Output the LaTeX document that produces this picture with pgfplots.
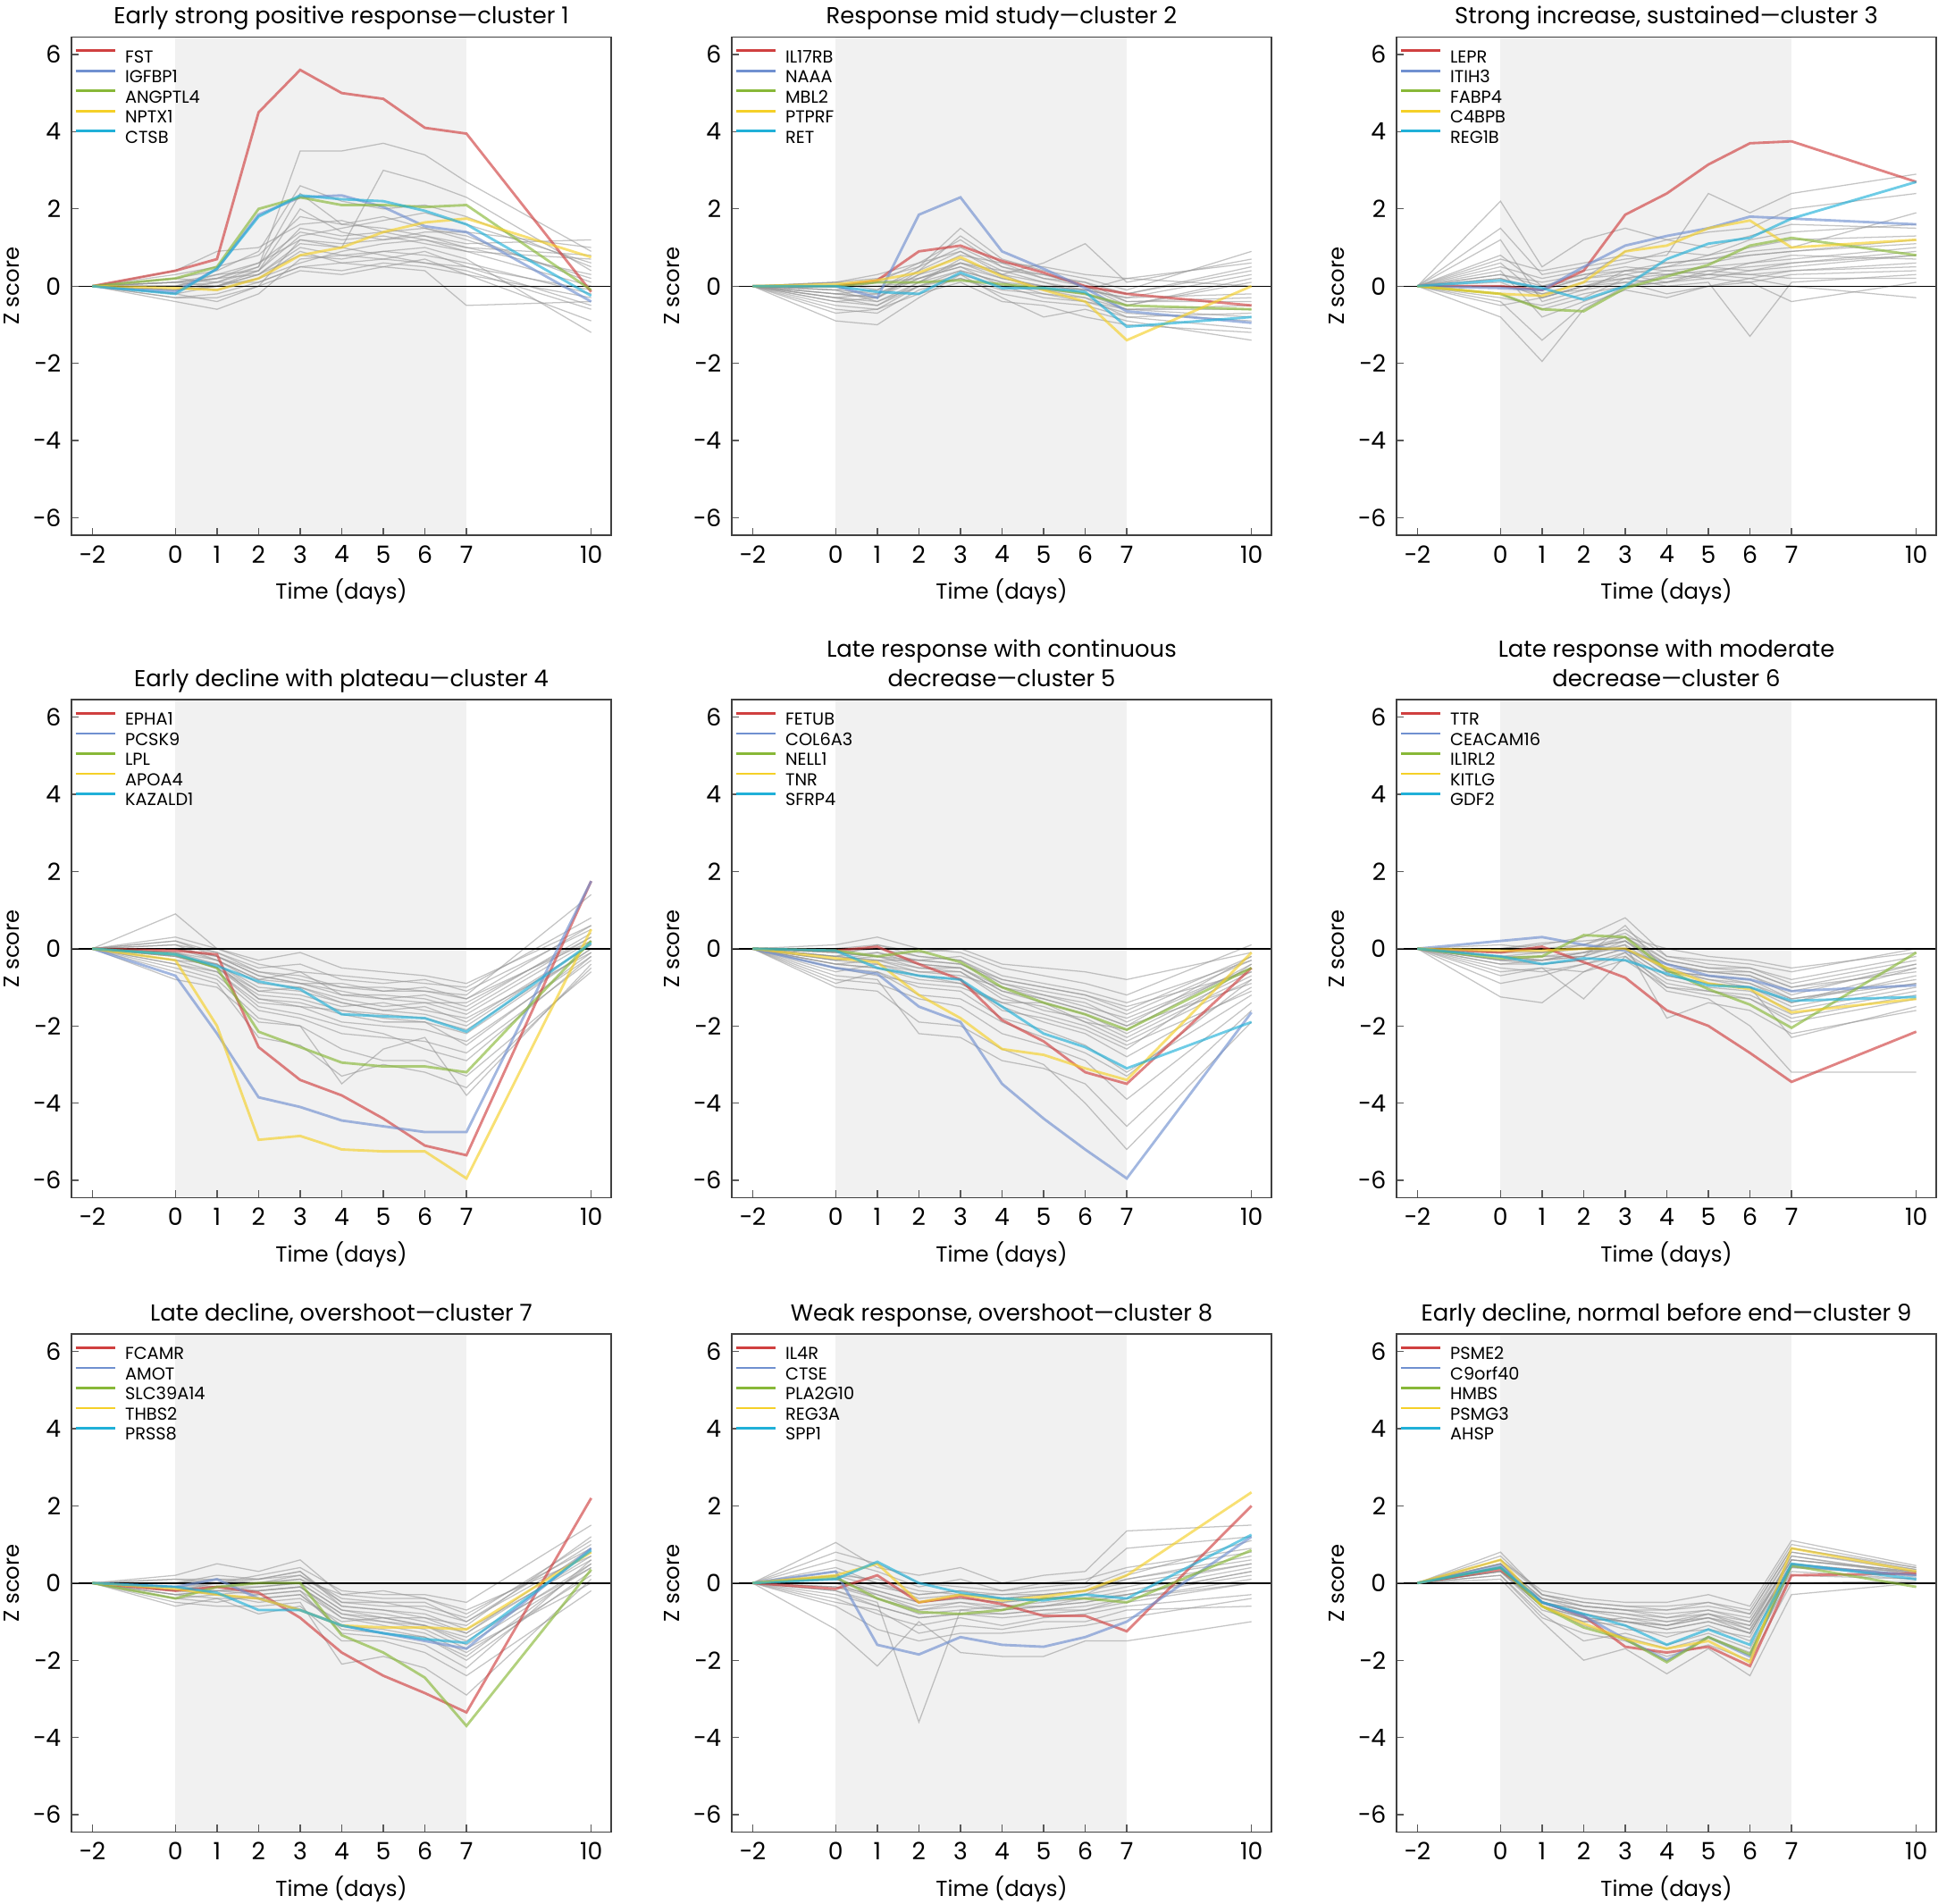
\documentclass[border=0pt]{standalone}
\usepackage{fontspec}
\setmainfont{Poppins}
\usepackage{pgfplots}
\pgfplotsset{compat=1.18}
\definecolor{cR}{HTML}{D04040}
\definecolor{cB}{HTML}{7090D0}
\definecolor{cG}{HTML}{88B838}
\definecolor{cY}{HTML}{F5D028}
\definecolor{cC}{HTML}{20B0D8}
\definecolor{bgfill}{HTML}{F1F1F1}
\newcommand\gl[9]{\addplot[gl,forget plot] coordinates {(-2,0)(0,#1)(1,#2)(2,#3)(3,#4)(4,#5)(5,#6)(6,#7)(7,#8)(10,#9)};}
\newcommand\cl[1]{\def\clst{#1}\clx}
\newcommand\clx[9]{\edef\tmp{\noexpand\addplot[\clst]}\tmp coordinates {(-2,0)(0,#1)(1,#2)(2,#3)(3,#4)(4,#5)(5,#6)(6,#7)(7,#8)(10,#9)};}
\newcommand\bg{\fill[bgfill] (axis cs:0,-6.45) rectangle (axis cs:7,6.45);}
\newcommand\zl{\draw[black,line width=0.45pt] (axis cs:-2.5,0) -- (axis cs:10.48,0);}
\pgfplotsset{
  every axis title shift/.style={yshift=0pt},
  gl/.style={draw=black!42, draw opacity=0.55, line width=0.38pt},
  cr/.style={draw=cR, draw opacity=0.65, line width=0.85pt},
  cb/.style={draw=cB, draw opacity=0.65, line width=0.85pt},
  cg/.style={draw=cG, draw opacity=0.65, line width=0.85pt},
  cy/.style={draw=cY, draw opacity=0.65, line width=0.85pt},
  cc/.style={draw=cC, draw opacity=0.65, line width=0.85pt},
  panel/.style={
    scale only axis, width=181.2pt, height=167.25pt, anchor=north west,
    xmin=-2.5, xmax=10.48, ymin=-6.45, ymax=6.45,
    axis on top,
    no markers,
    xtick={-2,0,1,2,3,4,5,6,7,10},
    xticklabels={−2,0,1,2,3,4,5,6,7,10},
    ytick={-6,-4,-2,0,2,4,6},
    yticklabels={−6,−4,−2,0,2,4,6},
    xtick pos=bottom, ytick pos=left, tick align=inside,
    major tick length=2.5pt,
    major tick style={black!65, line width=0.4pt},
    axis line style={black!75, line width=0.5pt},
    tick label style={font=\fontsize{8}{9}\selectfont},
    xlabel={Time (days)}, ylabel={Z score},
    label style={font=\fontsize{7.3}{8}\selectfont},
    xlabel style={at={(axis description cs:0.5,-0.114)}, anchor=center},
    ylabel style={at={(axis description cs:-0.11,0.5)}, anchor=center},
    title style={at={(axis description cs:0.5,1.0085)}, anchor=south, yshift=-6.2pt, inner sep=0pt, align=center, font=\fontsize{7.75}{9.9}\selectfont},
    legend style={at={(axis description cs:0,1)}, anchor=north west, xshift=0.8pt, yshift=-4.0pt,
      draw=none, fill=none, inner sep=0pt, row sep=2.3pt,
      font=\fontsize{5.8}{6.5}\selectfont,
      nodes={inner sep=0pt, text height=4.1pt, text depth=0pt},
      /tikz/every odd column/.append style={column sep=3pt}},
    legend cell align=left,
    legend image code/.code={\path (0pt,0pt); \draw[#1,draw opacity=1,line width=0.8pt] (0pt,2pt)--(13.2pt,2pt);},
  }
}
\begin{document}
\begin{tikzpicture}
\useasboundingbox (0,0) rectangle (650.7pt,-639.3pt);
% ---------- cluster 1
\begin{axis}[panel, at={(24pt,-12.45pt)}, title={Early strong positive response—cluster 1\strut},
  legend entries={FST,IGFBP1,ANGPTL4,NPTX1,CTSB}]
\bg
\gl{0.1}{0.2}{0.6}{1.2}{1.1}{1.2}{1.3}{1.0}{0.3}
\gl{-0.1}{0.0}{0.3}{0.8}{0.7}{0.9}{0.8}{0.6}{-0.2}
\gl{0.2}{0.4}{0.9}{2.6}{2.2}{2.0}{2.1}{1.8}{0.5}
\gl{0.0}{0.1}{0.5}{3.5}{3.5}{3.7}{3.4}{2.7}{0.9}
\gl{-0.3}{-0.2}{0.1}{0.5}{0.6}{0.7}{0.6}{0.4}{-0.6}
\gl{0.1}{0.3}{0.4}{1.5}{1.3}{1.4}{1.5}{1.2}{0.2}
\gl{-0.2}{-0.4}{0.0}{0.4}{0.3}{0.5}{0.7}{0.3}{-0.9}
\gl{0.3}{0.5}{0.8}{1.8}{1.6}{1.5}{1.3}{1.1}{1.2}
\gl{0.0}{0.2}{0.3}{1.1}{1.0}{3.0}{2.7}{2.3}{0.4}
\gl{-0.4}{-0.6}{-0.2}{0.7}{0.8}{0.9}{1.0}{0.7}{-1.2}
\gl{0.2}{0.1}{0.4}{1.3}{1.5}{1.7}{1.9}{1.6}{0.6}
\gl{-0.1}{0.0}{0.2}{0.9}{0.6}{0.5}{0.4}{-0.5}{-0.4}
\gl{0.1}{0.2}{0.5}{2.4}{1.6}{1.8}{1.5}{1.3}{0.1}
\gl{0.0}{-0.1}{0.2}{0.6}{0.9}{1.1}{1.2}{1.0}{0.8}
\gl{-0.2}{0.0}{0.3}{1.0}{0.8}{0.7}{0.9}{0.5}{-0.5}
\gl{0.4}{0.9}{1.0}{1.6}{1.7}{1.4}{1.2}{0.9}{0.0}
\gl{-0.1}{0.1}{0.1}{0.5}{0.4}{0.6}{0.5}{0.3}{-0.3}
\gl{0.0}{0.3}{0.6}{1.4}{1.2}{1.3}{1.1}{0.9}{0.7}
\gl{-0.3}{-0.3}{0.0}{1.2}{1.0}{0.8}{0.6}{0.5}{-0.1}
\gl{0.1}{0.0}{0.4}{2.0}{1.4}{1.2}{1.4}{1.4}{1.0}
\zl
\cl{cr}{0.4}{0.7}{4.5}{5.6}{5.0}{4.85}{4.1}{3.95}{-0.15}
\cl{cb}{-0.15}{0.45}{1.85}{2.3}{2.35}{2.05}{1.55}{1.4}{-0.4}
\cl{cg}{0.2}{0.5}{2.0}{2.3}{2.1}{2.1}{2.05}{2.1}{-0.1}
\cl{cy}{-0.05}{-0.1}{0.2}{0.8}{1.0}{1.4}{1.65}{1.75}{0.75}
\cl{cc}{-0.2}{0.45}{1.8}{2.35}{2.25}{2.2}{1.95}{1.6}{-0.25}
\end{axis}
% ---------- cluster 2
\begin{axis}[panel, at={(245.7pt,-12.45pt)}, title={Response mid study—cluster 2\strut},
  legend entries={IL17RB,NAAA,MBL2,PTPRF,RET}]
\bg
\gl{-0.1}{-0.2}{0.3}{0.6}{0.2}{0.0}{-0.1}{-0.3}{-0.2}
\gl{-0.3}{-0.5}{0.0}{0.4}{0.1}{-0.2}{-0.3}{-0.6}{-0.8}
\gl{0.1}{0.2}{0.5}{1.5}{0.7}{0.4}{0.2}{-0.1}{0.9}
\gl{-0.6}{-0.7}{-0.1}{0.2}{-0.2}{-0.4}{-0.5}{-0.8}{-1.1}
\gl{-0.2}{-0.1}{0.4}{0.9}{0.4}{0.3}{0.1}{-0.2}{0.4}
\gl{0.0}{0.1}{0.6}{1.2}{0.5}{0.2}{0.0}{-0.4}{-0.3}
\gl{-0.4}{-0.3}{0.2}{0.5}{0.0}{-0.1}{-0.2}{-0.5}{0.2}
\gl{-0.9}{-1.0}{-0.3}{0.3}{-0.3}{-0.8}{-0.6}{-0.9}{-1.4}
\gl{-0.1}{-0.4}{0.1}{0.7}{0.3}{0.6}{1.1}{0.1}{0.7}
\gl{-0.3}{-0.2}{0.2}{0.6}{0.4}{0.1}{-0.2}{-0.6}{-0.6}
\gl{0.1}{-0.1}{0.5}{1.0}{0.5}{0.3}{0.0}{-0.2}{0.5}
\gl{-0.5}{-0.6}{0.0}{0.3}{0.0}{-0.3}{-0.4}{-0.7}{-0.9}
\gl{-0.2}{-0.3}{0.3}{0.8}{0.6}{0.5}{0.3}{0.2}{0.0}
\gl{0.0}{0.0}{0.1}{0.4}{0.1}{0.0}{-0.1}{-0.3}{0.3}
\gl{-0.7}{-0.6}{-0.2}{0.1}{-0.4}{-0.5}{-0.8}{-1.0}{-1.2}
\gl{-0.2}{-0.3}{0.4}{1.3}{0.6}{0.2}{0.1}{-0.4}{-0.4}
\gl{-0.1}{0.1}{0.2}{0.5}{0.2}{0.0}{0.0}{-0.5}{0.1}
\gl{-0.4}{-0.5}{0.1}{0.6}{0.3}{-0.1}{-0.3}{-0.8}{-0.7}
\gl{0.1}{0.3}{0.6}{0.9}{0.3}{0.1}{-0.1}{0.2}{0.6}
\gl{-0.3}{-0.4}{0.0}{0.2}{-0.1}{-0.2}{-0.4}{-0.6}{-0.5}
\zl
\cl{cr}{0.0}{0.15}{0.9}{1.05}{0.65}{0.35}{0.0}{-0.2}{-0.5}
\cl{cb}{0.0}{-0.3}{1.85}{2.3}{0.9}{0.45}{-0.05}{-0.65}{-0.95}
\cl{cg}{0.0}{0.1}{0.1}{0.15}{0.05}{-0.05}{-0.2}{-0.5}{-0.6}
\cl{cy}{0.05}{0.15}{0.35}{0.75}{0.25}{-0.1}{-0.4}{-1.4}{0.0}
\cl{cc}{0.0}{-0.15}{-0.2}{0.35}{-0.05}{-0.05}{-0.15}{-1.05}{-0.8}
\end{axis}
% ---------- cluster 3
\begin{axis}[panel, at={(468.9pt,-12.45pt)}, title={Strong increase, sustained—cluster 3\strut},
  legend entries={LEPR,ITIH3,FABP4,C4BPB,REG1B}]
\bg
\gl{0.2}{-0.1}{0.2}{0.4}{0.3}{0.4}{0.5}{0.6}{0.8}
\gl{-0.3}{-0.5}{-0.2}{0.0}{0.1}{0.2}{0.1}{0.3}{0.4}
\gl{2.2}{0.5}{1.2}{1.5}{1.2}{1.0}{1.3}{1.6}{1.5}
\gl{0.6}{-0.3}{0.0}{0.3}{0.5}{0.6}{0.8}{0.9}{1.1}
\gl{-0.8}{-1.95}{-0.6}{0.0}{0.1}{0.3}{0.2}{0.4}{0.5}
\gl{1.5}{0.3}{0.5}{0.7}{0.8}{2.4}{1.9}{2.4}{2.9}
\gl{0.0}{-0.2}{0.1}{0.2}{0.0}{0.1}{-1.3}{0.1}{0.3}
\gl{1.2}{-0.4}{-0.1}{0.4}{0.6}{0.7}{0.9}{1.0}{1.9}
\gl{0.3}{0.1}{0.3}{0.5}{0.4}{0.5}{0.6}{0.7}{1.0}
\gl{-0.4}{-1.4}{-0.5}{-0.1}{-0.3}{0.0}{0.2}{0.0}{-0.3}
\gl{0.5}{0.2}{0.4}{0.6}{0.9}{0.8}{1.0}{1.2}{1.3}
\gl{0.1}{-0.3}{0.0}{0.1}{0.2}{0.3}{0.3}{0.4}{0.6}
\gl{-0.2}{-0.6}{-0.3}{0.2}{0.3}{0.2}{0.4}{0.5}{0.8}
\gl{0.8}{0.0}{0.2}{0.9}{1.2}{1.4}{1.5}{2.0}{2.4}
\gl{0.0}{-0.1}{0.2}{0.3}{0.1}{0.4}{0.3}{0.2}{0.2}
\gl{0.4}{-0.8}{-0.4}{0.0}{0.3}{0.5}{0.4}{0.6}{0.9}
\gl{-0.5}{-0.3}{0.0}{0.2}{0.4}{0.3}{0.6}{0.8}{0.7}
\gl{0.7}{0.4}{0.6}{0.8}{0.6}{0.7}{0.8}{0.9}{1.2}
\gl{0.2}{-0.2}{-0.1}{0.1}{-0.2}{0.0}{0.1}{-0.4}{0.1}
\gl{0.3}{0.0}{0.3}{0.4}{0.5}{0.8}{1.2}{1.4}{1.6}
\zl
\cl{cr}{0.0}{-0.1}{0.4}{1.85}{2.4}{3.15}{3.7}{3.75}{2.7}
\cl{cb}{-0.05}{-0.1}{0.5}{1.05}{1.3}{1.5}{1.8}{1.75}{1.6}
\cl{cg}{-0.2}{-0.6}{-0.65}{-0.05}{0.25}{0.55}{1.05}{1.25}{0.8}
\cl{cy}{-0.2}{-0.25}{0.1}{0.9}{1.05}{1.5}{1.7}{1.0}{1.2}
\cl{cc}{0.15}{-0.05}{-0.35}{0.0}{0.7}{1.1}{1.25}{1.75}{2.7}
\end{axis}
% ---------- cluster 4
\begin{axis}[panel, at={(24pt,-234.9pt)}, title={Early decline with plateau—cluster 4\strut},
  legend entries={EPHA1,PCSK9,LPL,APOA4,KAZALD1}]
\bg
\gl{0.0}{-0.2}{-0.6}{-0.7}{-1.0}{-1.1}{-1.1}{-1.3}{0.2}
\gl{-0.2}{-0.5}{-1.2}{-1.3}{-1.6}{-1.7}{-1.8}{-2.1}{0.0}
\gl{0.9}{0.0}{-0.3}{-0.1}{-0.5}{-0.6}{-0.7}{-0.9}{0.6}
\gl{-0.4}{-0.7}{-1.6}{-1.8}{-2.2}{-2.3}{-2.4}{-2.7}{-0.3}
\gl{0.1}{-0.3}{-0.8}{-0.9}{-1.2}{-1.2}{-1.3}{-1.6}{0.3}
\gl{-0.6}{-0.9}{-2.3}{-2.5}{-3.3}{-3.0}{-3.2}{-3.6}{-0.5}
\gl{0.2}{-0.1}{-0.5}{-0.4}{-0.8}{-0.9}{-0.8}{-1.1}{0.5}
\gl{-0.1}{-0.4}{-1.0}{-1.1}{-1.4}{-1.6}{-1.5}{-1.9}{0.1}
\gl{-0.3}{-0.6}{-1.4}{-1.5}{-1.9}{-2.0}{-2.1}{-2.4}{-0.2}
\gl{0.0}{-0.2}{-0.7}{-0.9}{-1.1}{-1.3}{-1.2}{-1.5}{0.4}
\gl{-0.8}{-1.0}{-1.9}{-2.0}{-2.6}{-2.9}{-2.9}{-3.3}{-0.6}
\gl{0.3}{0.0}{-0.4}{-0.6}{-0.7}{-0.8}{-0.9}{-1.0}{0.8}
\gl{-0.2}{-0.5}{-1.1}{-1.2}{-1.5}{-1.4}{-1.6}{-1.8}{-0.1}
\gl{-0.1}{-0.3}{-0.9}{-1.0}{-1.3}{-1.5}{-1.4}{-1.7}{0.2}
\gl{-0.5}{-0.8}{-1.8}{-2.0}{-3.5}{-2.6}{-2.3}{-3.8}{-0.4}
\gl{0.1}{-0.1}{-0.6}{-0.8}{-1.0}{-1.0}{-1.1}{-1.2}{1.4}
\gl{-0.3}{-0.4}{-1.3}{-1.4}{-1.7}{-1.9}{-1.9}{-2.2}{0.0}
\gl{0.0}{-0.3}{-0.8}{-0.6}{-1.2}{-1.3}{-1.4}{-1.4}{0.3}
\gl{-0.4}{-0.6}{-1.5}{-1.7}{-2.0}{-2.2}{-2.6}{-2.9}{-0.2}
\gl{0.2}{-0.2}{-0.7}{-0.9}{-0.9}{-1.1}{-1.0}{-1.3}{0.6}
\gl{-0.2}{-0.4}{-1.1}{-1.0}{-1.4}{-1.6}{-1.7}{-2.0}{0.1}
\gl{-0.1}{-0.5}{-1.3}{-1.5}{-1.6}{-1.8}{-1.9}{-2.5}{-0.1}
\zl
\cl{cr}{-0.05}{-0.15}{-2.55}{-3.4}{-3.8}{-4.4}{-5.1}{-5.35}{1.75}
\cl{cb}{-0.7}{-2.2}{-3.85}{-4.1}{-4.45}{-4.6}{-4.75}{-4.75}{1.75}
\cl{cg}{-0.15}{-0.5}{-2.15}{-2.55}{-2.95}{-3.05}{-3.05}{-3.2}{0.2}
\cl{cy}{-0.3}{-2.0}{-4.95}{-4.85}{-5.2}{-5.25}{-5.25}{-5.95}{0.5}
\cl{cc}{-0.15}{-0.45}{-0.85}{-1.05}{-1.7}{-1.75}{-1.8}{-2.15}{0.15}
\end{axis}
% ---------- cluster 5
\begin{axis}[panel, at={(245.7pt,-234.9pt)}, title={Late response with continuous\\decrease—cluster 5\strut},
  legend entries={FETUB,COL6A3,NELL1,TNR,SFRP4}]
\bg
\gl{-0.2}{-0.1}{-0.3}{-0.4}{-0.9}{-1.2}{-1.4}{-1.9}{-0.5}
\gl{-0.4}{-0.5}{-0.8}{-0.9}{-1.5}{-1.9}{-2.2}{-2.8}{-1.0}
\gl{0.1}{0.3}{0.0}{-0.1}{-0.5}{-0.7}{-0.9}{-1.2}{0.1}
\gl{-0.7}{-0.8}{-2.2}{-2.3}{-2.9}{-3.1}{-3.5}{-4.6}{-1.6}
\gl{-0.1}{0.0}{-0.2}{-0.3}{-0.8}{-1.0}{-1.2}{-1.6}{-0.2}
\gl{-0.5}{-0.6}{-1.0}{-1.1}{-1.8}{-2.1}{-2.5}{-3.2}{-1.2}
\gl{-0.3}{-0.2}{-0.4}{-0.5}{-1.1}{-1.4}{-1.7}{-2.2}{-0.6}
\gl{-1.0}{-1.1}{-1.9}{-2.0}{-2.6}{-3.0}{-4.0}{-5.2}{-1.9}
\gl{0.0}{0.1}{-0.1}{0.0}{-0.4}{-0.5}{-0.6}{-0.8}{-0.1}
\gl{-0.2}{-0.3}{-0.5}{-0.6}{-1.3}{-1.5}{-1.9}{-2.4}{-0.8}
\gl{-0.6}{-0.4}{-0.7}{-0.8}{-1.6}{-1.8}{-2.1}{-2.6}{-0.4}
\gl{-0.3}{-0.4}{-0.6}{-0.7}{-1.0}{-1.3}{-1.6}{-2.0}{-0.9}
\gl{-0.1}{-0.2}{-0.3}{-0.2}{-0.7}{-0.9}{-1.1}{-1.4}{-0.3}
\gl{-0.8}{-0.9}{-1.3}{-1.5}{-2.2}{-2.5}{-2.9}{-3.9}{-1.4}
\gl{-0.4}{-0.3}{-0.6}{-0.6}{-1.2}{-1.6}{-1.8}{-2.3}{-0.7}
\gl{-0.2}{0.1}{-0.2}{-0.3}{-0.9}{-1.1}{-1.3}{-1.7}{-0.3}
\gl{-0.5}{-0.7}{-0.9}{-1.0}{-1.4}{-1.7}{-2.0}{-2.5}{-1.1}
\gl{-0.3}{-0.1}{-0.4}{-0.5}{-1.0}{-1.2}{-1.5}{-1.8}{-0.5}
\gl{-0.9}{-0.6}{-1.2}{-1.3}{-1.9}{-2.3}{-2.7}{-3.3}{-0.8}
\gl{-0.2}{-0.3}{-0.3}{-0.4}{-0.8}{-1.0}{-1.2}{-1.5}{-0.6}
\gl{-0.4}{-0.5}{-0.7}{-0.9}{-1.4}{-1.4}{-1.9}{-2.1}{-0.4}
\gl{-0.1}{-0.2}{-0.5}{-0.5}{-1.1}{-1.3}{-1.6}{-2.0}{-0.2}
\zl
\cl{cr}{-0.05}{0.05}{-0.4}{-0.8}{-1.85}{-2.4}{-3.2}{-3.5}{-0.5}
\cl{cb}{-0.5}{-0.65}{-1.5}{-1.9}{-3.5}{-4.4}{-5.2}{-5.95}{-1.65}
\cl{cg}{-0.05}{-0.2}{-0.05}{-0.35}{-1.0}{-1.4}{-1.7}{-2.1}{-0.5}
\cl{cy}{-0.25}{-0.35}{-1.2}{-1.8}{-2.6}{-2.75}{-3.1}{-3.4}{-0.1}
\cl{cc}{-0.05}{-0.5}{-0.7}{-0.8}{-1.5}{-2.2}{-2.55}{-3.1}{-1.9}
\end{axis}
% ---------- cluster 6
\begin{axis}[panel, at={(468.9pt,-234.9pt)}, title={Late response with moderate\\decrease—cluster 6\strut},
  legend entries={TTR,CEACAM16,IL1RL2,KITLG,GDF2}]
\bg
\gl{-0.1}{-0.1}{0.0}{0.2}{-0.4}{-0.6}{-0.7}{-1.1}{-0.5}
\gl{-0.3}{-0.4}{-0.3}{0.0}{-0.7}{-0.9}{-1.0}{-1.5}{-0.9}
\gl{0.0}{0.1}{0.3}{0.8}{-0.2}{-0.4}{-0.5}{-0.8}{-0.2}
\gl{-1.25}{-1.4}{-0.6}{-0.1}{-1.0}{-1.2}{-1.3}{-1.9}{-1.3}
\gl{-0.2}{-0.2}{-0.1}{0.3}{-0.3}{-0.5}{-0.6}{-1.0}{-0.4}
\gl{-0.6}{-0.5}{-1.3}{-0.2}{-0.9}{-1.1}{-1.2}{-1.7}{-1.1}
\gl{0.1}{0.0}{0.1}{0.5}{-0.2}{-0.3}{-0.4}{-0.6}{0.0}
\gl{-0.4}{-0.3}{-0.2}{0.1}{-1.8}{-1.4}{-1.6}{-2.2}{-1.6}
\gl{-0.2}{-0.3}{-0.1}{0.0}{-0.5}{-0.8}{-0.9}{-1.4}{-0.7}
\gl{-0.9}{-0.7}{-0.4}{-0.2}{-1.1}{-1.3}{-2.0}{-3.2}{-3.2}
\gl{0.0}{-0.1}{0.1}{0.4}{-0.3}{-0.5}{-0.5}{-0.9}{-0.3}
\gl{-0.3}{-0.2}{-0.2}{0.2}{-0.6}{-0.7}{-0.8}{-1.3}{-0.8}
\gl{-0.5}{-0.6}{-0.4}{-0.1}{-0.8}{-1.0}{-1.1}{-1.6}{-1.0}
\gl{-0.1}{0.0}{0.0}{0.3}{-0.4}{-0.6}{-0.6}{-1.0}{-0.6}
\gl{-0.2}{-0.3}{-0.2}{0.6}{-0.6}{-0.8}{-1.0}{-2.3}{-1.5}
\gl{-0.4}{-0.4}{-0.3}{0.0}{-0.7}{-0.9}{-1.0}{-1.4}{-0.5}
\gl{0.0}{0.15}{0.2}{0.3}{0.0}{-0.2}{-0.3}{-0.5}{-0.1}
\gl{-0.7}{-0.5}{-0.6}{-0.3}{-1.0}{-1.1}{-1.3}{-1.8}{-1.2}
\gl{-0.2}{-0.1}{0.0}{0.2}{-0.5}{-0.6}{-0.7}{-1.2}{-0.4}
\gl{-0.3}{-0.3}{-0.1}{0.1}{-0.6}{-0.7}{-0.9}{-1.3}{-0.9}
\zl
\cl{cr}{-0.1}{0.05}{-0.35}{-0.75}{-1.6}{-2.0}{-2.7}{-3.45}{-2.15}
\cl{cb}{0.2}{0.3}{0.1}{-0.05}{-0.4}{-0.7}{-0.8}{-1.1}{-0.95}
\cl{cg}{-0.25}{-0.2}{0.35}{0.3}{-0.55}{-1.05}{-1.45}{-2.05}{-0.1}
\cl{cy}{-0.05}{-0.05}{0.0}{0.0}{-0.5}{-0.9}{-1.05}{-1.65}{-1.3}
\cl{cc}{-0.2}{-0.4}{-0.25}{-0.3}{-0.65}{-0.95}{-1.0}{-1.35}{-1.25}
\end{axis}
% ---------- cluster 7
\begin{axis}[panel, at={(24pt,-447.9pt)}, title={Late decline, overshoot—cluster 7\strut},
  legend entries={FCAMR,AMOT,SLC39A14,THBS2,PRSS8}]
\bg
\gl{-0.1}{0.0}{0.0}{0.1}{-0.6}{-0.7}{-0.8}{-1.2}{0.6}
\gl{-0.3}{-0.2}{-0.3}{-0.2}{-0.9}{-1.0}{-1.1}{-1.6}{0.4}
\gl{0.2}{0.5}{0.3}{0.6}{-0.3}{-0.4}{-0.4}{-0.8}{0.9}
\gl{-0.5}{-0.6}{-0.6}{-0.5}{-2.1}{-1.9}{-2.2}{-2.9}{0.1}
\gl{0.0}{0.1}{0.1}{0.3}{-0.5}{-0.6}{-0.6}{-0.9}{1.1}
\gl{-0.2}{-0.3}{-0.2}{-0.1}{-0.8}{-0.9}{-1.1}{-1.5}{0.5}
\gl{-0.6}{-0.4}{-0.8}{-0.6}{-1.5}{-1.5}{-1.8}{-2.4}{-0.2}
\gl{0.1}{0.0}{0.2}{0.4}{-0.2}{-0.3}{-0.3}{-0.5}{1.5}
\gl{-0.1}{-0.2}{-0.1}{0.0}{-0.7}{-0.8}{-1.0}{-1.3}{0.7}
\gl{-0.3}{-0.4}{-0.4}{-0.3}{-1.1}{-1.2}{-1.4}{-2.0}{0.3}
\gl{0.0}{0.2}{0.1}{0.2}{-0.4}{-0.5}{-0.5}{-1.0}{1.0}
\gl{-0.2}{-0.1}{-0.2}{-0.1}{-0.9}{-1.1}{-1.3}{-1.8}{0.2}
\gl{-0.4}{-0.5}{-0.3}{-0.2}{-1.3}{-1.4}{-1.6}{-2.2}{0.6}
\gl{0.1}{0.1}{0.0}{0.2}{-0.5}{-0.5}{-0.7}{-1.0}{0.8}
\gl{-0.1}{-0.3}{-0.5}{-0.4}{-1.0}{-0.9}{-1.1}{-1.4}{0.4}
\gl{-0.2}{0.0}{0.1}{0.3}{-0.6}{-0.7}{-0.9}{-1.1}{1.2}
\gl{-0.3}{-0.2}{-0.2}{-0.1}{-0.8}{-1.0}{-1.2}{-1.7}{0.0}
\gl{0.0}{-0.1}{0.0}{0.1}{-0.3}{-0.2}{-0.4}{-0.7}{0.7}
\gl{-0.4}{-0.3}{-0.4}{-0.3}{-1.2}{-1.3}{-1.4}{-1.9}{0.5}
\gl{-0.1}{-0.1}{-0.1}{0.0}{-0.7}{-0.9}{-0.9}{-1.3}{0.9}
\zl
\cl{cr}{-0.2}{-0.1}{-0.25}{-0.9}{-1.8}{-2.4}{-2.85}{-3.35}{2.2}
\cl{cb}{-0.1}{0.1}{-0.4}{-0.7}{-1.1}{-1.3}{-1.5}{-1.7}{0.9}
\cl{cg}{-0.4}{-0.1}{0.0}{0.0}{-1.35}{-1.8}{-2.45}{-3.7}{0.35}
\cl{cy}{-0.15}{-0.3}{-0.4}{-0.7}{-1.1}{-1.15}{-1.15}{-1.2}{0.8}
\cl{cc}{-0.1}{-0.25}{-0.7}{-0.7}{-1.1}{-1.3}{-1.45}{-1.55}{0.85}
\end{axis}
% ---------- cluster 8
\begin{axis}[panel, at={(245.7pt,-447.9pt)}, title={Weak response, overshoot—cluster 8\strut},
  legend entries={IL4R,CTSE,PLA2G10,REG3A,SPP1}]
\bg
\gl{0.1}{-0.2}{-0.5}{-0.4}{-0.5}{-0.4}{-0.3}{-0.1}{0.5}
\gl{-0.3}{-0.6}{-0.9}{-0.8}{-0.9}{-0.8}{-0.7}{-0.5}{0.0}
\gl{0.6}{0.3}{-0.1}{0.1}{-0.2}{0.0}{0.1}{0.4}{0.9}
\gl{-0.6}{-1.2}{-1.5}{-1.3}{-1.3}{-1.2}{-1.1}{-0.9}{-0.4}
\gl{0.2}{-0.1}{-0.3}{-0.2}{-0.4}{-0.3}{-0.2}{0.1}{0.7}
\gl{-1.2}{-2.15}{-1.0}{-1.8}{-1.9}{-1.9}{-1.5}{-1.5}{-1.0}
\gl{0.0}{-0.4}{-0.7}{-0.6}{-0.7}{-0.6}{-0.5}{-0.3}{0.3}
\gl{1.05}{0.4}{0.2}{0.4}{0.0}{0.2}{0.3}{1.35}{1.5}
\gl{-0.2}{-0.5}{-3.6}{-0.7}{-0.8}{-0.7}{-0.6}{-0.4}{0.1}
\gl{0.3}{0.0}{-0.4}{-0.3}{-0.3}{-0.2}{-0.1}{0.3}{0.8}
\gl{-0.4}{-0.8}{-1.1}{-0.9}{-1.1}{-0.9}{-0.8}{-0.6}{-0.3}
\gl{0.1}{-0.3}{-0.6}{-0.5}{-0.6}{-0.5}{-0.4}{-0.2}{0.4}
\gl{-0.1}{-0.4}{-0.8}{-0.7}{-0.6}{-0.6}{-0.5}{-0.3}{0.2}
\gl{0.4}{0.0}{-0.3}{-0.2}{-0.3}{-0.3}{-0.2}{0.1}{0.6}
\gl{-0.5}{-0.7}{-1.3}{-1.1}{-1.2}{-1.0}{-1.0}{-0.7}{-0.6}
\gl{0.0}{-0.2}{-0.5}{-0.4}{-0.5}{-0.4}{-0.3}{0.2}{1.1}
\gl{-0.2}{-0.6}{-0.9}{-0.8}{-0.8}{-0.7}{-0.7}{-0.4}{0.0}
\gl{0.2}{0.1}{-0.2}{-0.3}{-0.4}{-0.3}{-0.2}{0.0}{0.5}
\gl{-0.1}{-0.3}{-0.7}{-0.5}{-0.7}{-0.6}{-0.4}{-0.3}{0.3}
\gl{0.8}{0.5}{0.0}{-0.1}{-0.2}{-0.1}{0.0}{0.9}{1.2}
\zl
\cl{cr}{-0.15}{0.2}{-0.5}{-0.35}{-0.55}{-0.85}{-0.85}{-1.25}{2.0}
\cl{cb}{0.3}{-1.6}{-1.85}{-1.4}{-1.6}{-1.65}{-1.4}{-1.0}{1.2}
\cl{cg}{0.15}{-0.4}{-0.75}{-0.8}{-0.7}{-0.4}{-0.4}{-0.5}{0.85}
\cl{cy}{0.2}{0.5}{-0.5}{-0.3}{-0.45}{-0.35}{-0.2}{0.2}{2.35}
\cl{cc}{0.1}{0.55}{0.0}{-0.25}{-0.4}{-0.45}{-0.3}{-0.4}{1.25}
\end{axis}
% ---------- cluster 9
\begin{axis}[panel, at={(468.9pt,-447.9pt)}, title={Early decline, normal before end—cluster 9\strut},
  legend entries={PSME2,C9orf40,HMBS,PSMG3,AHSP}]
\bg
\gl{0.4}{-0.5}{-0.7}{-0.8}{-1.0}{-0.8}{-1.1}{0.6}{0.3}
\gl{0.3}{-0.6}{-0.9}{-1.0}{-1.2}{-1.0}{-1.3}{0.5}{0.2}
\gl{0.7}{-0.3}{-0.5}{-0.6}{-0.7}{-0.5}{-0.8}{0.9}{0.4}
\gl{0.2}{-0.8}{-1.5}{-1.3}{-1.6}{-1.3}{-1.7}{0.3}{0.1}
\gl{0.5}{-0.4}{-0.6}{-0.7}{-0.9}{-0.7}{-1.0}{0.8}{0.35}
\gl{0.1}{-1.0}{-2.0}{-1.7}{-2.35}{-1.7}{-2.4}{-0.3}{0.0}
\gl{0.4}{-0.5}{-0.8}{-1.0}{-1.1}{-0.9}{-1.2}{0.7}{0.25}
\gl{0.6}{-0.2}{-0.4}{-0.5}{-0.5}{-0.3}{-0.6}{1.1}{0.45}
\gl{0.3}{-0.7}{-1.0}{-1.1}{-1.4}{-1.1}{-1.5}{0.4}{0.2}
\gl{0.5}{-0.5}{-0.7}{-0.8}{-0.9}{-0.8}{-1.0}{0.6}{0.3}
\gl{0.4}{-0.6}{-0.9}{-1.2}{-1.3}{-1.2}{-1.4}{0.5}{0.15}
\gl{0.8}{-0.3}{-0.5}{-0.6}{-0.6}{-0.5}{-0.7}{1.0}{0.4}
\gl{0.3}{-0.6}{-1.1}{-1.4}{-1.7}{-1.4}{-1.8}{0.2}{0.1}
\gl{0.5}{-0.4}{-0.6}{-0.7}{-0.8}{-0.7}{-0.9}{0.8}{0.3}
\gl{0.2}{-0.9}{-1.3}{-1.5}{-1.9}{-1.6}{-2.0}{0.0}{0.05}
\gl{0.6}{-0.3}{-0.6}{-0.7}{-0.7}{-0.6}{-0.8}{0.9}{0.35}
\gl{0.4}{-0.5}{-0.9}{-1.0}{-1.2}{-1.0}{-1.3}{0.6}{0.25}
\gl{0.3}{-0.4}{-0.7}{-0.9}{-1.0}{-0.9}{-1.1}{0.7}{0.2}
\gl{0.5}{-0.6}{-1.0}{-0.9}{-1.1}{-0.8}{-1.2}{0.4}{0.3}
\gl{0.4}{-0.5}{-0.8}{-1.0}{-1.1}{-0.9}{-1.3}{0.5}{0.2}
\zl
\cl{cr}{0.35}{-0.5}{-0.85}{-1.65}{-1.8}{-1.65}{-2.15}{0.2}{0.25}
\cl{cb}{0.45}{-0.5}{-0.85}{-1.45}{-2.0}{-1.4}{-1.9}{0.45}{0.2}
\cl{cg}{0.4}{-0.6}{-1.15}{-1.45}{-2.05}{-1.4}{-1.85}{0.45}{-0.1}
\cl{cy}{0.6}{-0.6}{-1.05}{-1.45}{-1.7}{-1.5}{-2.05}{0.9}{0.3}
\cl{cc}{0.4}{-0.5}{-0.8}{-1.1}{-1.6}{-1.2}{-1.6}{0.5}{0.1}
\end{axis}
\end{tikzpicture}
\end{document}
